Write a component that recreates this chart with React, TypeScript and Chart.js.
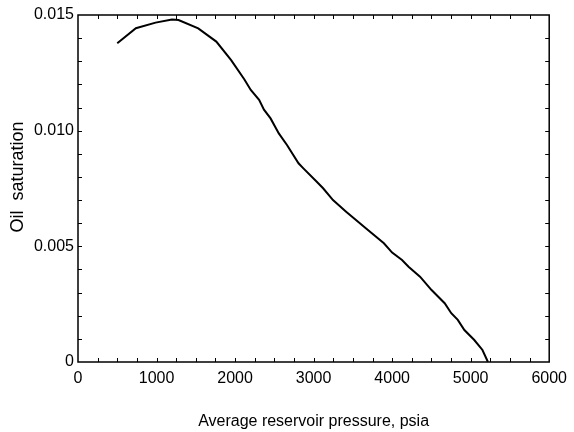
import React, { useEffect, useRef } from "react";
import { Chart, registerables } from "chart.js";

Chart.register(...registerables);

const pressure = [500, 737, 988, 1196, 1280, 1531, 1761, 1950, 2117, 2200, 2306, 2368, 2452, 2557, 2661, 2808, 2870, 3037, 3121, 3247, 3414, 3665, 3895, 4000, 4126, 4209, 4355, 4502, 4669, 4753, 4836, 4920, 5046, 5150, 5220];
const oilSaturation = [0.01378, 0.01443, 0.01467, 0.01481, 0.01478, 0.01442, 0.01385, 0.01305, 0.01222, 0.01176, 0.01133, 0.01091, 0.01053, 0.00988, 0.00938, 0.00859, 0.00837, 0.0078, 0.00751, 0.007, 0.0065, 0.00578, 0.00513, 0.00473, 0.00441, 0.00412, 0.00369, 0.00311, 0.00254, 0.00211, 0.00182, 0.00138, 0.00095, 0.00052, 0.0];

const xTickValues = [0, 1000, 2000, 3000, 4000, 5000, 6000];
const yTickValues = [0, 0.005, 0.01, 0.015];
const yTickLabels = ["0", "0.005", "0.010", "0.015"];
const xTitle = "Average reservoir pressure, psia";
const yTitle = "Oil  saturation";

const FONT = "'Liberation Sans', Arial, sans-serif";

const framePlugin = {
  id: "frame",
  afterDraw(chart: any) {
    const { ctx, chartArea } = chart;
    const { left, right, top, bottom } = chartArea;
    const xs = chart.scales.x;
    const ys = chart.scales.y;
    ctx.save();
    ctx.strokeStyle = "#000";
    ctx.lineWidth = 1.5;
    ctx.strokeRect(left, top, right - left, bottom - top);
    ctx.lineWidth = 1;
    const tl = 4;
    ctx.beginPath();
    for (let v = 250; v < 6000; v += 250) {
      const px = Math.round(xs.getPixelForValue(v)) + 0.5;
      ctx.moveTo(px, bottom);
      ctx.lineTo(px, bottom - tl);
      ctx.moveTo(px, top);
      ctx.lineTo(px, top + tl);
    }
    for (let i = 1; i < 15; i++) {
      const py = Math.round(ys.getPixelForValue(i * 0.001)) + 0.5;
      ctx.moveTo(left, py);
      ctx.lineTo(left + tl, py);
      ctx.moveTo(right, py);
      ctx.lineTo(right - tl, py);
    }
    ctx.stroke();
    ctx.fillStyle = "#000";
    ctx.font = `16px ${FONT}`;
    ctx.textAlign = "center";
    ctx.textBaseline = "alphabetic";
    ctx.fillText(xTitle, (left + right) / 2, 426);
    ctx.save();
    ctx.translate(23, 177);
    ctx.rotate(-Math.PI / 2);
    ctx.font = `18px ${FONT}`;
    ctx.fillText(yTitle, 0, 0);
    ctx.restore();
    ctx.restore();
  },
};

export default function App() {
  const ref = useRef<HTMLCanvasElement | null>(null);
  useEffect(() => {
    document.body.style.margin = "0";
    const canvas = ref.current!;
    const chart = new Chart(canvas, {
      type: "scatter",
      data: {
        datasets: [
          {
            data: pressure.map((p, i) => ({ x: p, y: oilSaturation[i] })),
            showLine: true,
            borderColor: "#000",
            borderWidth: 2,
            pointRadius: 0,
            tension: 0,
            fill: false,
          },
        ],
      },
      options: {
        animation: false,
        responsive: false,
        devicePixelRatio: 1,
        layout: { padding: { top: 15, right: 18, left: 0, bottom: 0 } },
        plugins: { legend: { display: false }, tooltip: { enabled: false } },
        scales: {
          x: {
            type: "linear",
            min: 0,
            max: 6000,
            afterFit: (s: any) => { s.height = 70; },
            afterBuildTicks: (s: any) => { s.ticks = xTickValues.map((v) => ({ value: v })); },
            grid: { display: false, drawTicks: false },
            border: { display: false },
            ticks: {
              color: "#000",
              padding: 7,
              maxRotation: 0,
              autoSkip: false,
              font: { family: FONT, size: 16 },
              callback: (v: any) => String(v),
            },
          },
          y: {
            type: "linear",
            min: 0,
            max: 0.015,
            afterFit: (s: any) => { s.width = 78; },
            afterBuildTicks: (s: any) => { s.ticks = yTickValues.map((v) => ({ value: v })); },
            grid: { display: false, drawTicks: false },
            border: { display: false },
            ticks: {
              color: "#000",
              padding: 4,
              autoSkip: false,
              font: { family: FONT, size: 16 },
              callback: (v: any) => {
                const i = yTickValues.findIndex((t) => Math.abs(t - v) < 1e-9);
                return i >= 0 ? yTickLabels[i] : "";
              },
            },
          },
        },
      },
      plugins: [framePlugin],
    });
    return () => chart.destroy();
  }, []);
  return <canvas ref={ref} width={574} height={432} style={{ display: "block" }} />;
}
